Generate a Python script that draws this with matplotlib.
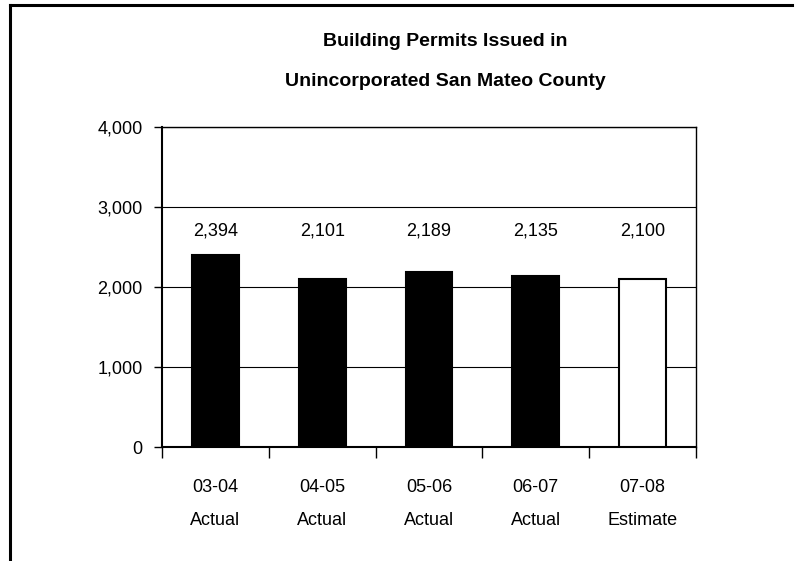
import matplotlib
matplotlib.use("Agg")
import matplotlib.pyplot as plt
from matplotlib.lines import Line2D

years = ["03-04", "04-05", "05-06", "06-07", "07-08"]
kinds = ["Actual", "Actual", "Actual", "Actual", "Estimate"]
permits = [2394, 2101, 2189, 2135, 2100]
fills = ["black", "black", "black", "black", "white"]
y_ticks = [0, 1000, 2000, 3000, 4000]

plt.rcParams["font.family"] = ["Liberation Sans Narrow", "Liberation Sans", "DejaVu Sans"]

fig = plt.figure(figsize=(7.98, 5.61), dpi=100)
ax = fig.add_axes([162 / 798, 1 - 447 / 561, 534 / 798, 320 / 561])

x = list(range(len(years)))
ax.bar(x, permits, width=0.44, color=fills, edgecolor="black", linewidth=1.5, zorder=3)

for xi, v in zip(x, permits):
    ax.text(xi, 2700, f"{v:,}", ha="center", va="center", fontsize=13)

ax.set_xlim(-0.5, len(years) - 0.5)
ax.set_ylim(0, 4000)
ax.set_yticks(y_ticks)
ax.set_yticklabels([f"{t:,}" for t in y_ticks], fontsize=13)
ax.yaxis.grid(True, color="black", linewidth=0.8, zorder=0)
ax.set_axisbelow(True)

ax.set_xticks(x)
ax.set_xticklabels([f"{a}\n{b}" for a, b in zip(years, kinds)], fontsize=13, linespacing=2.25)
ax.tick_params(axis="x", length=0, pad=23)
ax.set_xticks([i - 0.5 for i in range(len(years) + 1)], minor=True)
ax.tick_params(axis="x", which="minor", length=8, width=1, direction="out")
ax.tick_params(axis="y", length=6, width=1, direction="out", pad=8)

for s in ax.spines.values():
    s.set_linewidth(1.0)
    s.set_color("black")
ax.spines["left"].set_linewidth(1.5)
ax.spines["bottom"].set_linewidth(1.5)

fig.text(445 / 798, 1 - 41 / 561, "Building Permits Issued in", ha="center", va="center",
         fontsize=14, fontweight="bold")
fig.text(445 / 798, 1 - 81 / 561, "Unincorporated San Mateo County", ha="center", va="center",
         fontsize=14, fontweight="bold")

# outer frame: left and top edges
fig.add_artist(Line2D([10 / 798, 10 / 798], [0, 1 - 5 / 561], color="black", linewidth=2.2,
                      transform=fig.transFigure))
fig.add_artist(Line2D([10 / 798, 792 / 798], [1 - 5 / 561, 1 - 5 / 561], color="black",
                      linewidth=2.2, transform=fig.transFigure))

fig.savefig("out.png", dpi=100)
